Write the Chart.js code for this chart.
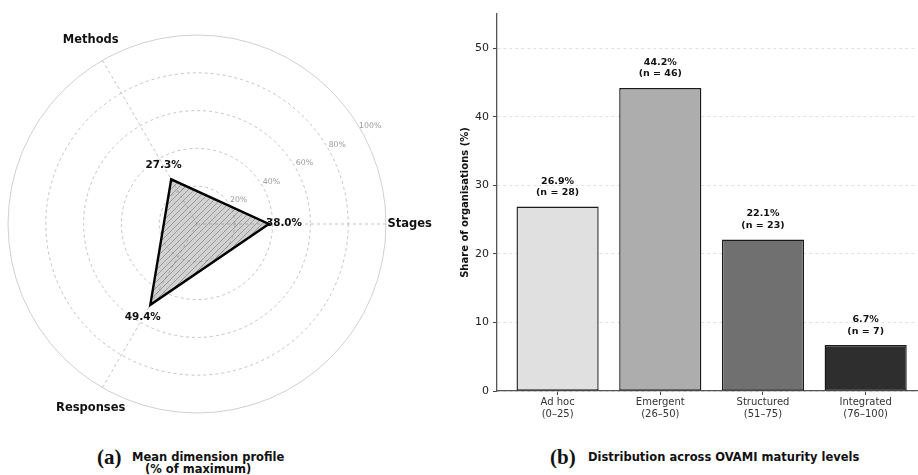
<!DOCTYPE html>
<html>
<head>
<meta charset="utf-8">
<script src="https://cdn.jsdelivr.net/npm/chart.js@4.4.1/dist/chart.umd.min.js"></script>
<style>
  body { margin: 0; background: #fff; width: 918px; height: 475px; overflow: hidden; position: relative; font-family: "DejaVu Sans", sans-serif; }
  canvas { position: absolute; }
  #radar { left: 0; top: 0; }
  #bars { left: 440px; top: 0; }
  .cap { position: absolute; white-space: nowrap; font-weight: bold; font-size: 11.5px; line-height: 12px; color: #111; }
  .tag { position: absolute; white-space: nowrap; font-family: "Liberation Serif", serif; font-weight: bold; font-size: 21px; line-height: 22px; color: #111; }
</style>
</head>
<body>
<canvas id="radar" width="440" height="440"></canvas>
<canvas id="bars" width="478" height="430"></canvas>

<div class="tag" style="left:97px; top:446px;">(a)</div>
<div class="cap" style="left:132px; top:451px;">Mean dimension profile</div>
<div class="cap" style="left:145px; top:463px;">(% of maximum)</div>
<div class="tag" style="left:550px; top:446px;">(b)</div>
<div class="cap" style="left:588px; top:451px;">Distribution across OVAMI maturity levels</div>

<script>
// (a) radar data
const dimensions = ['Stages', 'Methods', 'Responses'];
const dimensionScores = [38.0, 27.3, 49.4];
const radarTicks = [20, 40, 60, 80, 100];

// (b) bar data
const levels = [['Ad hoc', '(0–25)'], ['Emergent', '(26–50)'], ['Structured', '(51–75)'], ['Integrated', '(76–100)']];
const levelShares = [26.9, 44.2, 22.1, 6.7];
const levelCounts = [28, 46, 23, 7];

const levelColors = ['#e0e0e0', '#adadad', '#707070', '#2e2e2e'];

// chart.js goes clockwise, matplotlib went counter-clockwise
const radarOrder = [0, 2, 1];

function hatch() {
    const c = document.createElement('canvas');
    c.width = c.height = 6;
    const g = c.getContext('2d');
    g.fillStyle = 'rgba(128,128,128,0.36)';
    g.fillRect(0, 0, 6, 6);
    g.strokeStyle = 'rgba(70,70,70,0.5)';
    g.lineWidth = 0.8;
    g.beginPath();
    g.moveTo(0, 6); g.lineTo(6, 0);
    g.moveTo(-3, 3); g.lineTo(3, -3);
    g.moveTo(3, 9); g.lineTo(9, 3);
    g.stroke();
    return g.createPattern(c, 'repeat');
}

const radarText = {
    id: 'radarText',
    afterDatasetsDraw(chart) {
        const r = chart.scales.r;
        const ctx = chart.ctx;
        ctx.save();
        ctx.textAlign = 'center';
        ctx.textBaseline = 'middle';

        // ring labels
        ctx.fillStyle = '#999';
        ctx.font = '7.8px "DejaVu Sans"';
        const a = 29.5 * Math.PI / 180;
        radarTicks.forEach(v => {
            const d = r.getDistanceFromCenterForValue(v) + 10;
            ctx.fillText(v + '%', r.xCenter + d * Math.cos(a), r.yCenter - d * Math.sin(a));
        });

        ctx.fillStyle = '#111';
        radarOrder.forEach((k, i) => {
            ctx.font = 'bold 11.5px "DejaVu Sans"';
            let p = r.getPointPositionForValue(i, 112.5);
            ctx.fillText(dimensions[k], p.x, p.y);
            ctx.font = 'bold 10.4px "DejaVu Sans"';
            p = r.getPointPositionForValue(i, dimensionScores[k] + 8);
            ctx.fillText(dimensionScores[k].toFixed(1) + '%', p.x, p.y - 1);
        });
        ctx.restore();
    }
};

new Chart(document.getElementById('radar'), {
    type: 'radar',
    data: {
        labels: radarOrder.map(k => dimensions[k]),
        datasets: [{
            data: radarOrder.map(k => dimensionScores[k]),
            borderColor: '#000',
            borderWidth: 2.4,
            backgroundColor: hatch(),
            fill: true,
            pointRadius: 0,
            tension: 0
        }]
    },
    options: {
        responsive: false,
        animation: false,
        layout: { padding: { left: 8, top: 35, right: 54, bottom: 27 } },
        plugins: { legend: { display: false }, tooltip: { enabled: false } },
        scales: {
            r: {
                min: 0,
                max: 100,
                startAngle: 90,
                ticks: { display: false, stepSize: 20 },
                pointLabels: { display: false },
                grid: {
                    circular: true,
                    color: ctx => ctx.tick && ctx.tick.value === 100 ? '#d0d0d0' : '#bdbdbd',
                    lineWidth: ctx => ctx.tick && ctx.tick.value === 100 ? 1 : 0.9
                },
                border: { dash: ctx => ctx.tick && ctx.tick.value === 100 ? [] : [3, 3] },
                angleLines: { color: '#bdbdbd', lineWidth: 0.9, borderDash: [3, 3] }
            }
        }
    },
    plugins: [radarText]
});

const barText = {
    id: 'barText',
    afterDatasetsDraw(chart) {
        const ctx = chart.ctx;
        const meta = chart.getDatasetMeta(0);
        ctx.save();
        ctx.font = 'bold 9.5px "DejaVu Sans"';
        ctx.fillStyle = '#111';
        ctx.textAlign = 'center';
        ctx.textBaseline = 'middle';
        meta.data.forEach((bar, i) => {
            ctx.fillText(levelShares[i].toFixed(1) + '%', bar.x, bar.y - 25.5);
            ctx.fillText('(n = ' + levelCounts[i] + ')', bar.x, bar.y - 14);
        });
        ctx.restore();
    }
};

new Chart(document.getElementById('bars'), {
    type: 'bar',
    data: {
        datasets: [{
            data: levelShares.map((v, i) => ({ x: i, y: v })),
            backgroundColor: levelColors,
            borderColor: '#1a1a1a',
            borderWidth: 1.4,
            borderSkipped: false,
            barPercentage: 0.8,
            categoryPercentage: 1
        }]
    },
    options: {
        responsive: false,
        animation: false,
        layout: { padding: { top: 14, right: 1, left: 0, bottom: 0 } },
        plugins: { legend: { display: false }, tooltip: { enabled: false } },
        scales: {
            x: {
                type: 'linear',
                min: -0.59,
                max: 3.5,
                offset: false,
                afterFit: s => { s.height = 39; },
                grid: { offset: false, drawOnChartArea: false, tickLength: 4, tickColor: '#444', tickWidth: 1 },
                border: { color: '#555', width: 1.3 },
                ticks: {
                    stepSize: 1,
                    includeBounds: false,
                    autoSkip: false,
                    maxRotation: 0,
                    padding: 1,
                    color: '#333',
                    font: { family: 'DejaVu Sans', size: 10 },
                    callback: v => Number.isInteger(v) ? levels[v] : ''
                }
            },
            y: {
                min: 0,
                max: 55,
                afterFit: s => { s.width = 57; },
                grid: { color: '#dadada', lineWidth: 0.8, tickLength: 4, tickColor: '#444', tickWidth: 1, tickBorderDash: [] },
                border: { color: '#555', width: 1.3, dash: [3, 3] },
                ticks: { stepSize: 10, includeBounds: false, padding: 4, color: '#222', font: { family: 'DejaVu Sans', size: 11 } },
                title: {
                    display: true,
                    text: 'Share of organisations (%)',
                    color: '#111',
                    font: { family: 'DejaVu Sans', size: 10, weight: 'bold' },
                    padding: { top: 19, bottom: 0 }
                }
            }
        }
    },
    plugins: [barText]
});
</script>
</body>
</html>
